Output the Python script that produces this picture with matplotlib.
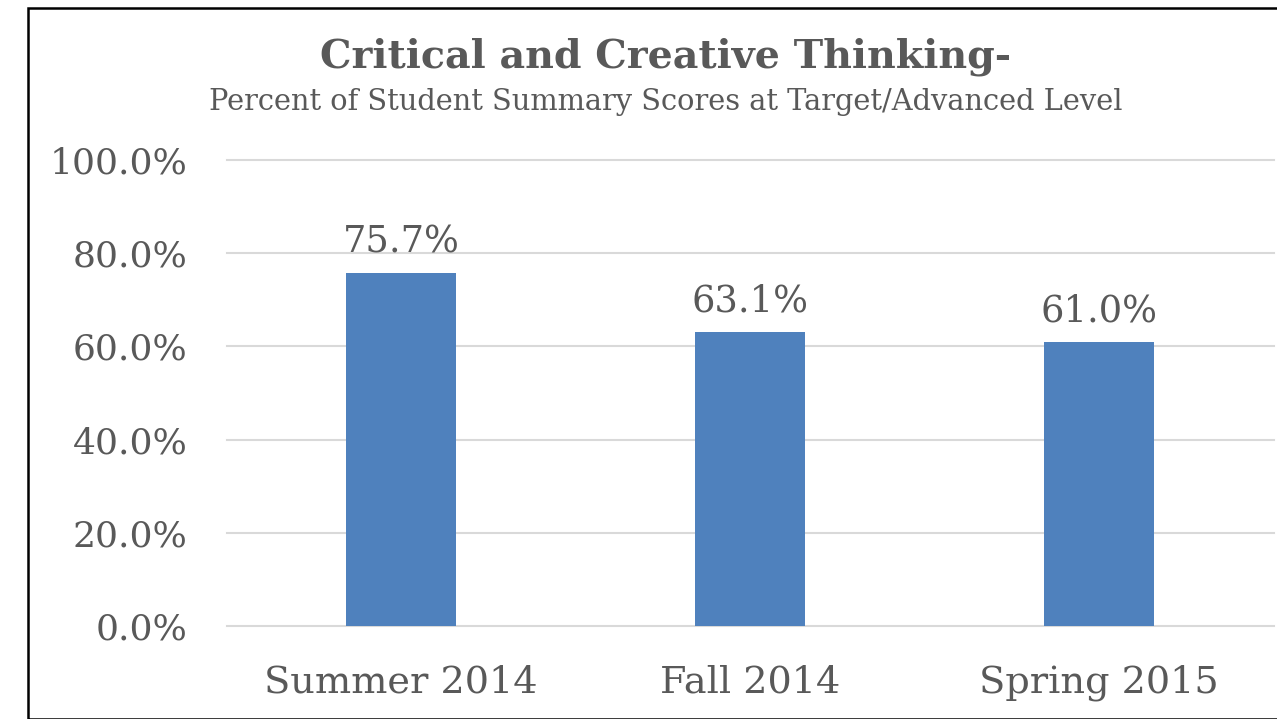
import matplotlib.pyplot as plt
import numpy as np
from matplotlib.patches import Rectangle

CATEGORIES = ["Summer 2014", "Fall 2014", "Spring 2015"]
VALUES = [75.7, 63.1, 61.0]
YTICKS = [0, 20, 40, 60, 80, 100]

TEXT = "#595959"
BAR = "#4F81BD"
GRID = "#D9D9D9"

plt.rcParams["font.family"] = "DejaVu Serif"

W, H = 1277, 719
fig = plt.figure(figsize=(W / 100, H / 100), dpi=100)

# outer chart border (runs off the right and bottom edges)
fig.patches.append(Rectangle((28 / W, 0), 2, (H - 8) / H, transform=fig.transFigure,
                             fill=False, edgecolor="black", linewidth=1.8))

ax = fig.add_axes([226.5 / W, (H - 626) / H, 1047 / W, 466 / H])
x = np.arange(len(CATEGORIES))
ax.bar(x, VALUES, width=0.315, color=BAR, zorder=3)
ax.set_xlim(-0.5, len(CATEGORIES) - 0.5)
ax.set_ylim(0, 100)
ax.set_yticks(YTICKS)
ax.set_yticklabels([f"{v:.1f}%" for v in YTICKS], fontsize=26, color=TEXT)
ax.set_xticks(x)
ax.set_xticklabels(CATEGORIES, fontsize=27.5, color=TEXT)
ax.tick_params(axis="x", length=0, pad=28)
ax.tick_params(axis="y", length=0, pad=28)
ax.yaxis.grid(True, color=GRID, linewidth=1.5, zorder=0)
for gl in ax.get_ygridlines():
    gl.set_clip_on(False)
for s in ax.spines.values():
    s.set_visible(False)

for xi, v in zip(x, VALUES):
    ax.annotate(f"{v:.1f}%", (xi, v), xytext=(0, 9), textcoords="offset points",
                ha="center", va="bottom", fontsize=26.5, color=TEXT)

fig.text(666 / W, 1 - 57 / H, "Critical and Creative Thinking-", ha="center", va="center",
         fontsize=28.5, fontweight="bold", color=TEXT)
fig.text(666 / W, 1 - 102 / H, "Percent of Student Summary Scores at Target/Advanced Level",
         ha="center", va="center", fontsize=20.8, color=TEXT)

fig.savefig("out.png", dpi=100)
